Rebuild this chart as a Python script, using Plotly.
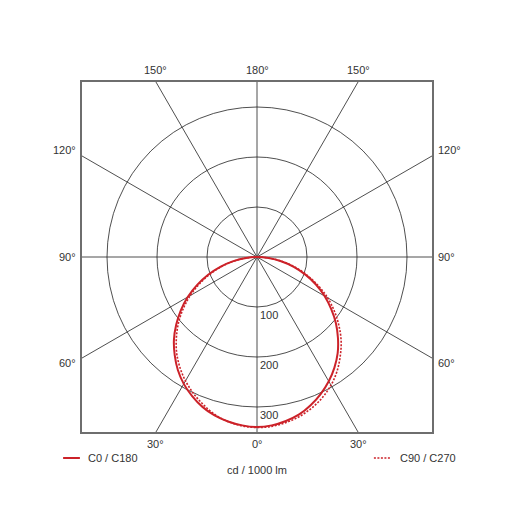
import numpy as np
import plotly.graph_objects as go

# ---- data (cd / 1000 lm), gamma angles in degrees ----
gamma = [0, 5, 10, 15, 20, 25, 30, 35, 40, 45, 50, 55, 60, 65, 70, 75, 80, 85, 90]
c0 = [340, 338, 333, 326, 315, 302, 287, 270, 251, 229, 206, 181, 156, 130, 103, 76, 49, 23, 0]
c180 = [340, 338, 334, 328, 319, 307, 293, 276, 256, 235, 211, 186, 160, 132, 104, 76, 48, 22, 0]
c90 = [341, 340, 336, 330, 321, 310, 296, 279, 259, 238, 214, 189, 163, 135, 107, 79, 51, 24, 0]
c270 = [341, 339, 334, 326, 314, 301, 286, 269, 250, 228, 205, 180, 154, 127, 100, 73, 47, 22, 0]

ring_values = [100, 200, 300]
spoke_angles = [0, 30, 60, 90, 120, 150, 180, 210, 240, 270, 300, 330]
angle_labels = ["0°", "30°", "60°", "90°", "120°", "150°", "180°", "150°", "120°", "90°", "60°", "30°"]
series_names = ["C0 / C180", "C90 / C270"]
unit_label = "cd / 1000 lm"
R = 350  # axis half-range

RED = "#cc2229"
GRID = "#222222"
FRAME = "#6e6e6e"
TXT = "#333333"
FONT = "Liberation Sans, Arial, sans-serif"
DOT = "2px,1.5px"


def to_xy(left_vals, right_vals):
    g = np.radians(np.array(gamma, dtype=float))
    lv = np.array(left_vals, dtype=float)
    rv = np.array(right_vals, dtype=float)
    xl = -lv * np.sin(g)
    yl = -lv * np.cos(g)
    xr = rv * np.sin(g)
    yr = -rv * np.cos(g)
    x = np.concatenate([xl[::-1], xr[1:]])
    y = np.concatenate([yl[::-1], yr[1:]])
    return x, y


fig = go.Figure()

x1, y1 = to_xy(c180, c0)
x2, y2 = to_xy(c270, c90)
fig.add_trace(go.Scatter(x=x1, y=y1, mode="lines", name=series_names[0],
                         line=dict(color=RED, width=2, shape="spline", smoothing=1.0),
                         hoverinfo="skip", showlegend=False))
fig.add_trace(go.Scatter(x=x2, y=y2, mode="lines", name=series_names[1],
                         line=dict(color=RED, width=1.6, dash=DOT, shape="spline", smoothing=1.0),
                         hoverinfo="skip", showlegend=False))

shapes = []
# rings
for r in ring_values:
    shapes.append(dict(type="circle", xref="x", yref="y", x0=-r, x1=r, y0=-r, y1=r,
                       line=dict(color=GRID, width=0.8), layer="below"))
# spokes to frame edge
annotations = []
for a, lab in zip(spoke_angles, angle_labels):
    t = np.radians(a)
    dx, dy = np.sin(t), -np.cos(t)
    s = R / max(abs(dx), abs(dy))
    ex, ey = dx * s, dy * s
    shapes.append(dict(type="line", xref="x", yref="y", x0=0, y0=0, x1=ex, y1=ey,
                       line=dict(color=GRID, width=0.8), layer="below"))
    ann = dict(x=ex, y=ey, xref="x", yref="y", text=lab, showarrow=False,
               font=dict(family=FONT, size=11, color=TXT))
    if abs(dy) > abs(dx) + 1e-6:
        if dy < 0:
            ann.update(yanchor="top", yshift=-4)
        else:
            ann.update(yanchor="bottom", yshift=4)
    else:
        if dx < 0:
            ann.update(xanchor="right", xshift=-4)
        else:
            ann.update(xanchor="left", xshift=4)
        if ey > 1:
            ann.update(yshift=6)
        elif ey < -1:
            ann.update(yshift=-5)
    annotations.append(ann)

# ring labels
for r in ring_values:
    annotations.append(dict(x=0, y=-r, xref="x", yref="y", text=str(r), showarrow=False,
                            xanchor="left", yanchor="top", xshift=1, yshift=0,
                            font=dict(family=FONT, size=11, color=TXT)))

# legend (manual)
LY = -0.0743
shapes.append(dict(type="line", xref="paper", yref="paper", x0=-0.054, x1=-0.006,
                   y0=LY, y1=LY, line=dict(color=RED, width=2)))
shapes.append(dict(type="line", xref="paper", yref="paper", x0=0.834, x1=0.882,
                   y0=LY, y1=LY, line=dict(color=RED, width=1.6, dash=DOT)))
annotations.append(dict(x=0.011, y=LY, xref="paper", yref="paper", text=series_names[0],
                        showarrow=False, xanchor="left", yanchor="middle",
                        font=dict(family=FONT, size=11, color=TXT)))
annotations.append(dict(x=0.903, y=LY, xref="paper", yref="paper", text=series_names[1],
                        showarrow=False, xanchor="left", yanchor="middle",
                        font=dict(family=FONT, size=11, color=TXT)))
annotations.append(dict(x=0.5, y=-0.1086, xref="paper", yref="paper", text=unit_label,
                        showarrow=False, xanchor="center", yanchor="middle",
                        font=dict(family=FONT, size=11, color=TXT)))

axis_common = dict(range=[-R, R], showgrid=False, zeroline=False, showticklabels=False,
                   ticks="", showline=True, mirror=True, linecolor=FRAME, linewidth=1.5,
                   fixedrange=True)
fig.update_layout(
    width=507, height=507,
    margin=dict(l=74, r=83, t=74, b=83),
    paper_bgcolor="white", plot_bgcolor="white",
    xaxis=dict(**axis_common),
    yaxis=dict(**axis_common, scaleanchor="x", scaleratio=1),
    shapes=shapes, annotations=annotations, showlegend=False,
    font=dict(family=FONT, size=11, color=TXT),
)

fig.write_html("out.html", config={"displayModeBar": False})
